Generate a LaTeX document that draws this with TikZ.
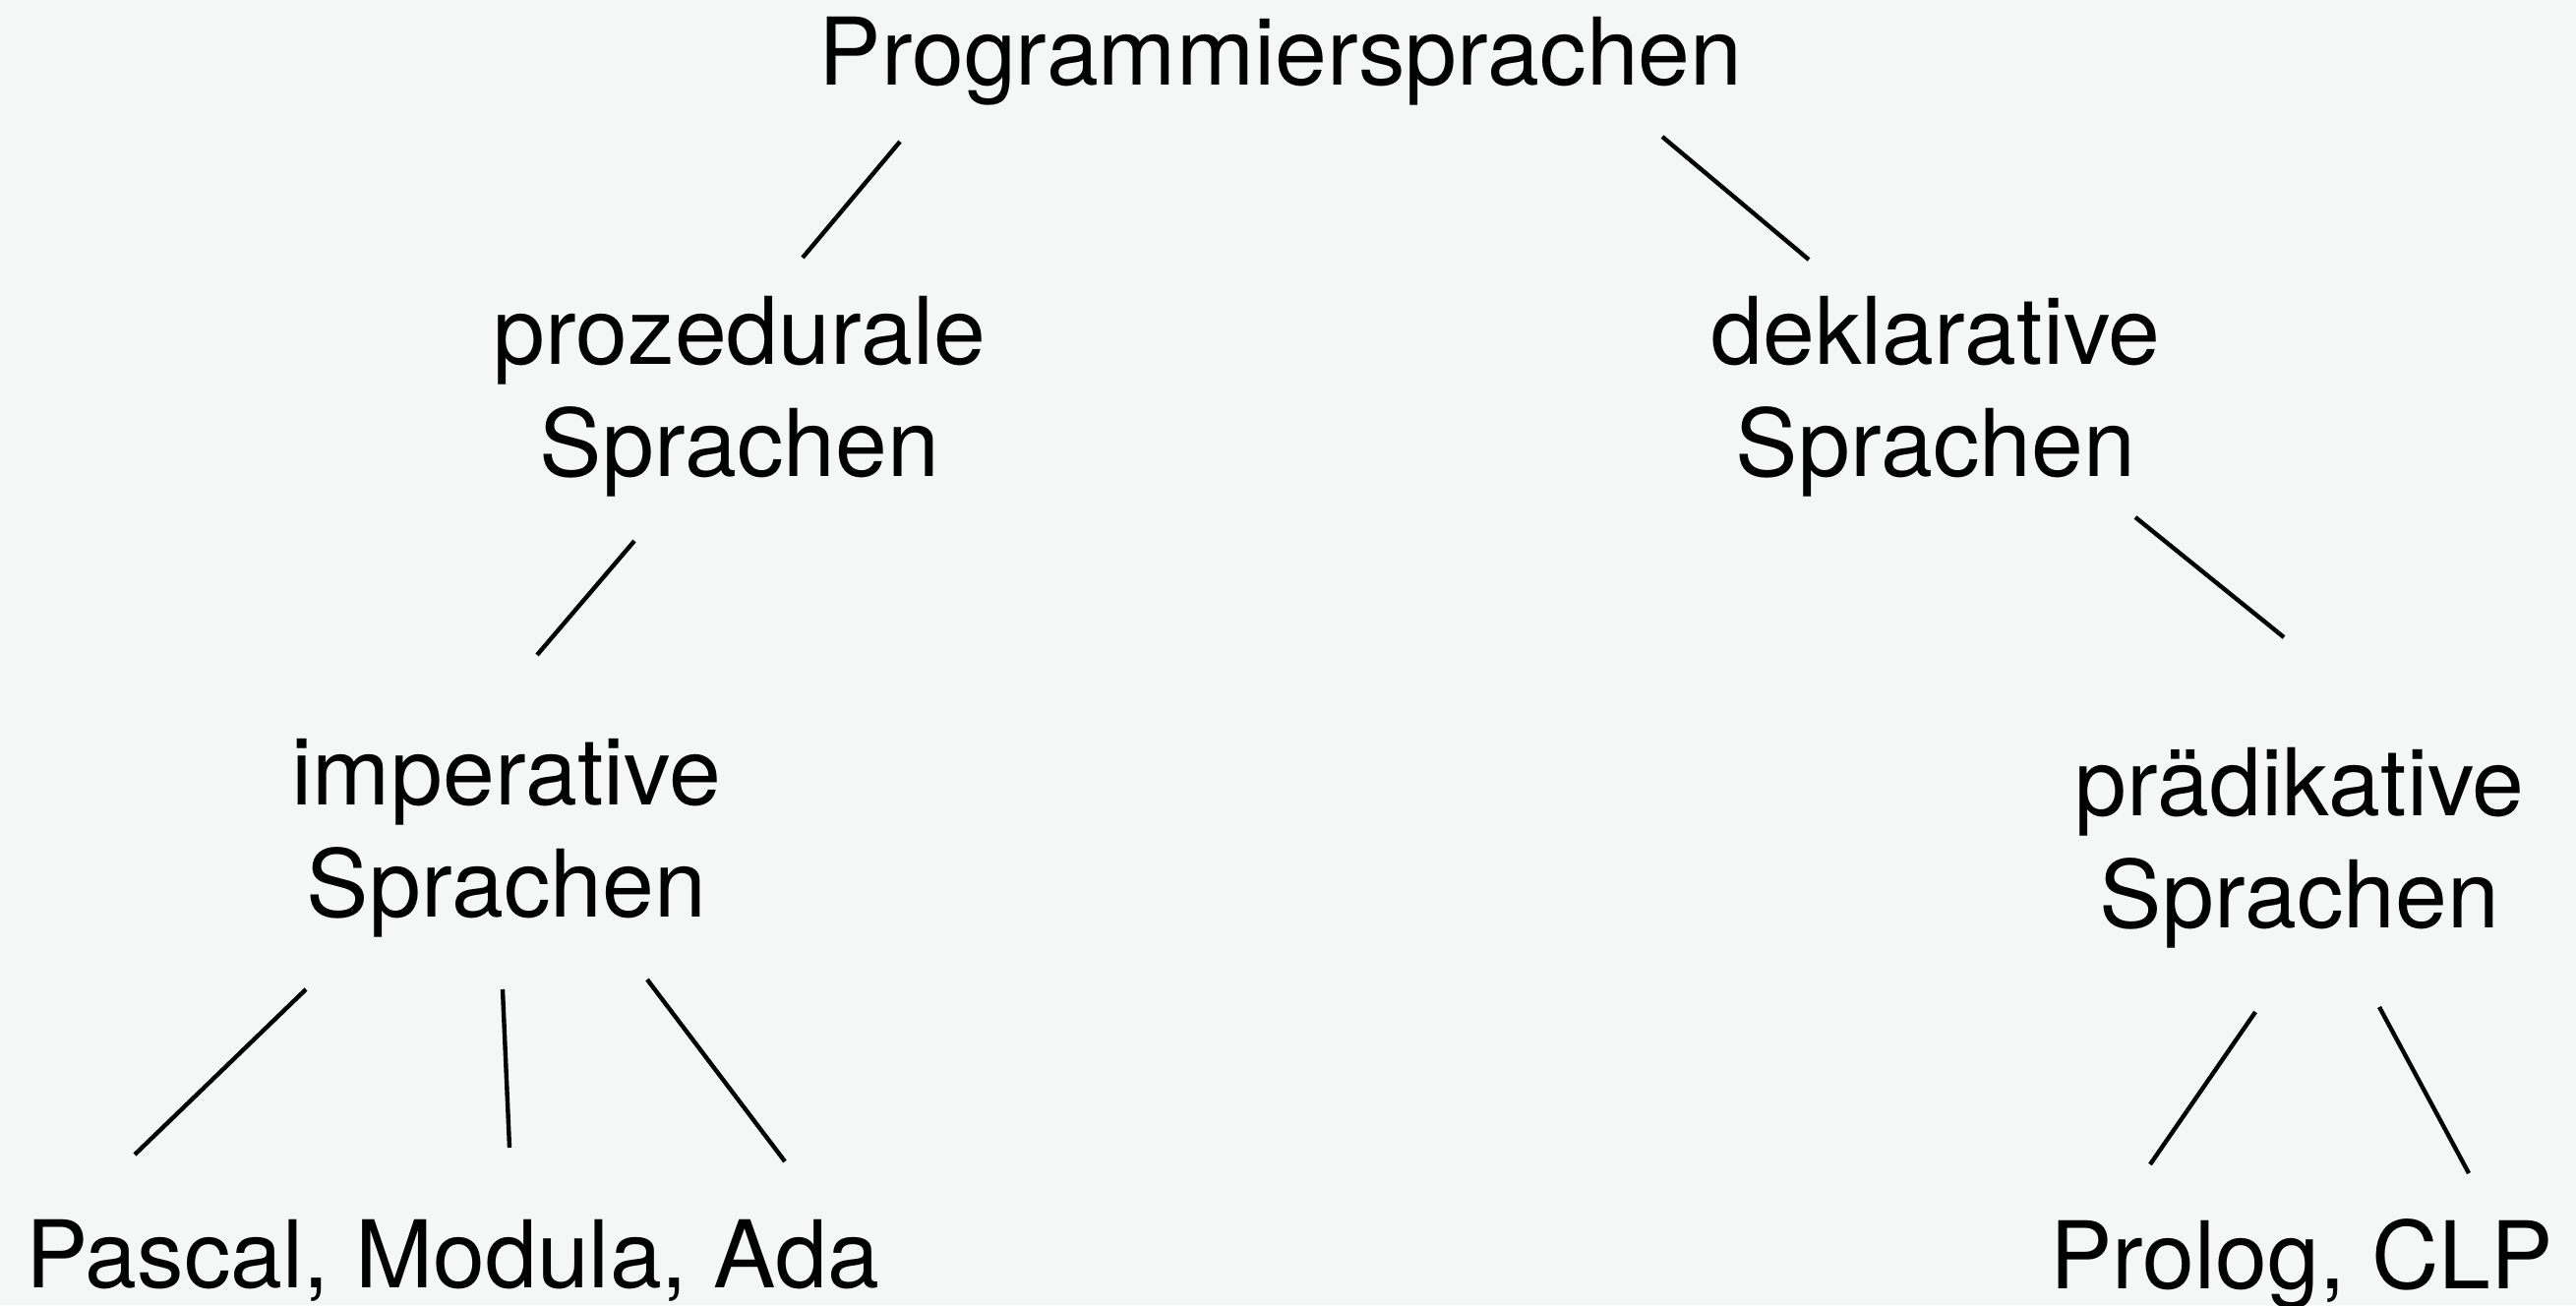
\documentclass[tikz,border=0pt]{standalone}
\usepackage{fontspec}
\setmainfont{TeX Gyre Heros}
\usepackage{tikz}
\usetikzlibrary{positioning}
\definecolor{hintergrund}{HTML}{F5F6F6}

\begin{document}
\begin{tikzpicture}[x=0.25pt, y=-0.25pt,
		sprache/.style={font=\fontsize{23.75}{28.5}\selectfont, inner sep=0pt, anchor=base, align=center},
		kante/.style={line width=1.1pt}]
		% Hintergrund
		\useasboundingbox (0,0) rectangle (2619,1327);
		\fill[hintergrund] (0,0) rectangle (2619,1327);
		
		% Sprachen (base = Grundlinie der letzten Zeile)
		\node[sprache] (prog) at (1302,87) {Programmiersprachen};
		\node[sprache] (proz) at (752,484) {prozedurale\\Sprachen};
		\node[sprache] (dekl) at (1968,484) {deklarative\\Sprachen};
		\node[sprache] (imp) at (515,932) {imperative\\Sprachen};
		\node[sprache] (praed) at (2338,943) {prädikative\\Sprachen};
		\node[sprache] (pma) at (460,1309) {Pascal, Modula, Ada};
		\node[sprache] (clp) at (2340,1310) {Prolog, CLP};
		
		% Enden der Kanten
		\coordinate (k1a) at (915,144);   \coordinate (k1b) at (816,262);
		\coordinate (k2a) at (1690,139);  \coordinate (k2b) at (1839,264);
		\coordinate (k3a) at (645,550);   \coordinate (k3b) at (546,666);
		\coordinate (k4a) at (2171,526);  \coordinate (k4b) at (2322,648);
		\coordinate (k5a) at (311,1006);  \coordinate (k5b) at (137,1174);
		\coordinate (k6a) at (511,1006);  \coordinate (k6b) at (518,1167);
		\coordinate (k7a) at (658,996);   \coordinate (k7b) at (798,1181);
		\coordinate (k8a) at (2293,1029); \coordinate (k8b) at (2186,1184);
		\coordinate (k9a) at (2419,1024); \coordinate (k9b) at (2510,1193);
		
		% Kanten
		\foreach \k in {1,...,9}
		\draw[kante] (k\k a) -- (k\k b);
	\end{tikzpicture}
\end{document}
